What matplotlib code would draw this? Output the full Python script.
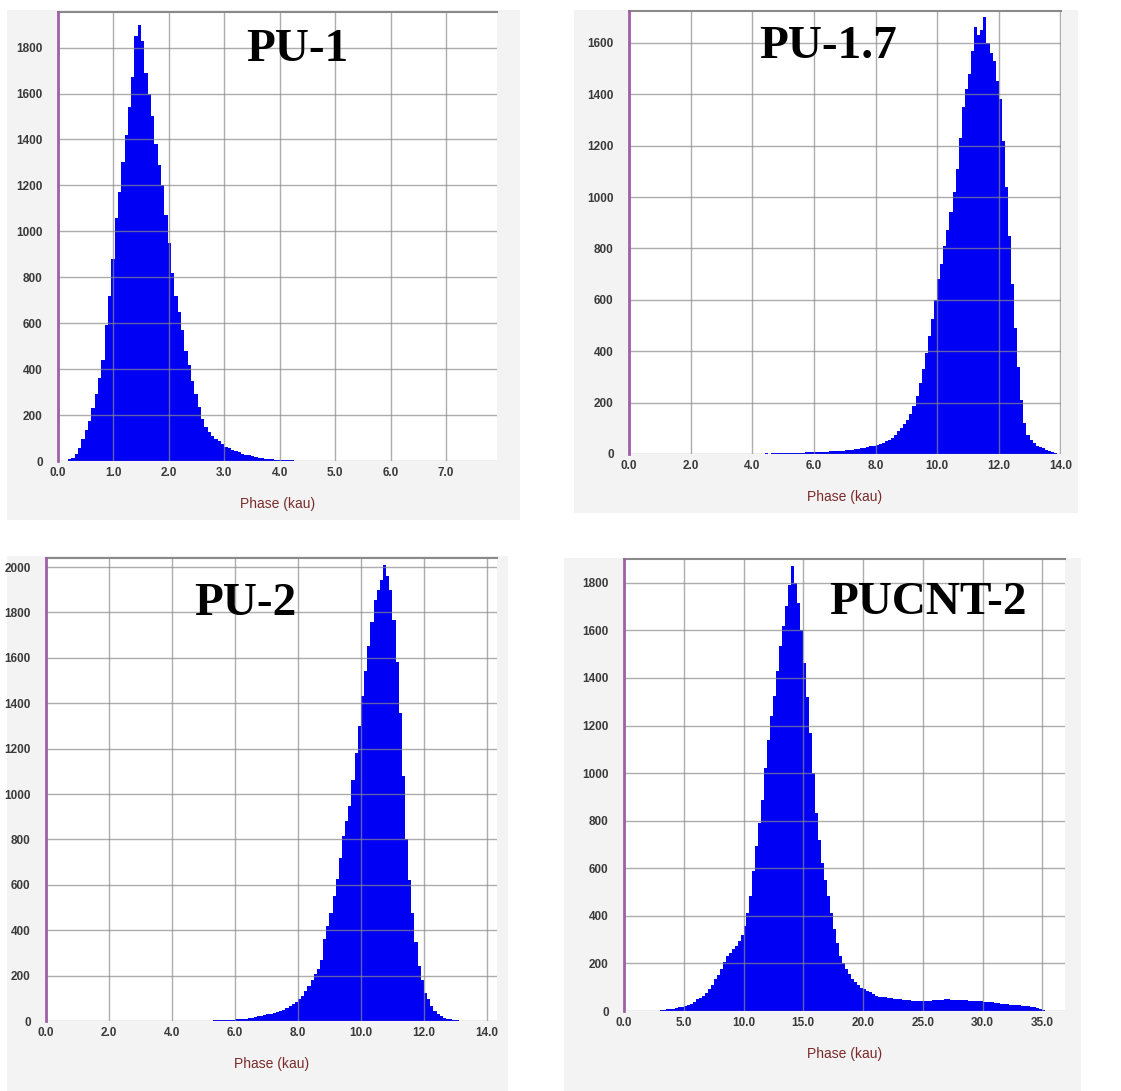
import numpy as np
import matplotlib.pyplot as plt
from matplotlib.patches import Rectangle

# PU-1: бини по 0.06 від 0.18
pu1_start, pu1_width = 0.18, 0.06
pu1_counts = [8, 12, 30, 55, 95, 135, 175, 230, 290, 360,
              440, 590, 720, 880, 1060, 1170, 1300, 1420, 1540, 1670,
              1850, 1900, 1830, 1690, 1600, 1500, 1380, 1290, 1200, 1070,
              950, 820, 720, 650, 570, 480, 420, 350, 290, 235,
              185, 150, 125, 110, 95, 85, 72, 62, 55, 48,
              42, 38, 32, 28, 24, 20, 17, 14, 12, 10,
              8, 7, 6, 5, 4, 4, 3, 3, 2, 2,
              2, 1, 1, 2, 1, 1, 1, 0, 1, 0]

# PU-1.7: бини по 0.1 від 4.0
pu17_start, pu17_width = 4.0, 0.1
pu17_counts = [1, 0, 1, 1, 2, 1, 2, 2, 3, 2, 3, 3, 4, 4, 4, 5, 5, 6, 6, 7,
               7, 8, 8, 9, 9, 10, 10, 11, 12, 13,
               14, 15, 17, 18, 20, 22, 25, 27, 30, 33,
               36, 40, 44, 50, 56, 64, 75, 88, 100, 115,
               132, 155, 185, 225, 275, 330, 395, 460, 525, 600,
               680, 740, 810, 870, 940, 1020, 1110, 1230, 1350, 1420,
               1480, 1570, 1660, 1630, 1650, 1700, 1600, 1560, 1530, 1450,
               1380, 1220, 1040, 850, 660, 490, 340, 210, 120, 75,
               55, 42, 32, 26, 22, 16, 10, 6, 3]

# PU-2: бини по 0.1 від 4.8
pu2_start, pu2_width = 4.8, 0.1
pu2_counts = [1, 2, 1, 2, 2, 3, 3, 4, 4, 5, 5, 6,
              7, 8, 10, 11, 13, 15, 17, 20, 23, 26,
              29, 32, 36, 40, 44, 50, 56, 64, 74, 85,
              95, 110, 130, 154, 180, 205, 227, 270, 360, 420,
              477, 550, 624, 720, 814, 880, 946, 1060, 1181, 1300,
              1430, 1540, 1651, 1760, 1856, 1900, 1944, 2010, 1960, 1900,
              1768, 1580, 1357, 1080, 800, 620, 477, 350, 242, 180,
              125, 95, 66, 45, 29, 20, 15, 10, 7, 5,
              3]

# PUCNT-2: бини по 0.25 від 2.5
pucnt_start, pucnt_width = 2.5, 0.25
pucnt_counts = [1, 2, 4, 5, 7, 8, 10, 12, 15, 18,
                21, 24, 30, 38, 49, 55, 62, 75, 91, 110,
                133, 150, 175, 205, 231, 245, 259, 275, 294, 320,
                357, 410, 483, 590, 693, 790, 889, 1020, 1141, 1240,
                1324, 1430, 1534, 1620, 1702, 1790, 1870, 1800, 1716, 1600,
                1464, 1320, 1169, 1000, 833, 720, 623, 550, 483, 410,
                343, 285, 231, 200, 175, 155, 133, 120, 108, 98,
                91, 85, 78, 72, 63, 60, 58, 57, 56, 55,
                52, 50, 49, 47, 46, 45, 44, 43, 42, 42,
                42, 43, 44, 45, 46, 47, 48, 49, 49, 48,
                48, 47, 46, 46, 45, 44, 43, 42, 41, 40,
                39, 38, 37, 36, 34, 33, 31, 30, 28, 27,
                26, 25, 24, 22, 21, 19, 17, 15, 12, 8,
                4, 2]

titles = ['PU-1', 'PU-1.7', 'PU-2', 'PUCNT-2']

W, H = 1121, 1091
fig = plt.figure(figsize=(W / 100, H / 100), dpi=100)
fig.patch.set_facecolor('white')


def px(l, t, r, b):
    return [l / W, 1 - b / H, (r - l) / W, (b - t) / H]


panels = [
    # сірий фон, область графіка, x межа, y межа, кроки, назва (x, y)
    dict(bg=(7, 10, 520, 520), ax=(58, 12, 497, 461), xmax=7.92, ymax=1955,
         xstep=1.0, ystep=200, ytop=1800, title_xy=(297, 50),
         start=pu1_start, width=pu1_width, counts=pu1_counts),
    dict(bg=(574, 10, 1078, 513), ax=(629, 11, 1061, 454), xmax=14.02, ymax=1724,
         xstep=2.0, ystep=200, ytop=1600, title_xy=(828, 47),
         start=pu17_start, width=pu17_width, counts=pu17_counts),
    dict(bg=(7, 556, 508, 1091), ax=(46, 558, 497, 1021), xmax=14.32, ymax=2040,
         xstep=2.0, ystep=200, ytop=2000, title_xy=(245, 604),
         start=pu2_start, width=pu2_width, counts=pu2_counts),
    dict(bg=(564, 558, 1081, 1091), ax=(624, 559, 1065, 1011), xmax=36.9, ymax=1900,
         xstep=5.0, ystep=200, ytop=1800, title_xy=(928, 603),
         start=pucnt_start, width=pucnt_width, counts=pucnt_counts),
]

for p, title in zip(panels, titles):
    l, t, r, b = p['bg']
    fig.patches.append(Rectangle((l / W, 1 - b / H), (r - l) / W, (b - t) / H,
                                 transform=fig.transFigure, facecolor='#f3f3f3',
                                 edgecolor='none', zorder=-5))
    ax = fig.add_axes(px(*p['ax']))
    ax.set_zorder(1)
    ax.set_facecolor('white')

    counts = np.array(p['counts'])
    edges = p['start'] + p['width'] * np.arange(len(counts) + 1)
    ax.stairs(counts, edges, fill=True, color='#0000f5', zorder=1)

    ax.set_xlim(0, p['xmax'])
    ax.set_ylim(0, p['ymax'])
    xt = np.arange(0, p['xmax'] + 1e-6, p['xstep'])
    yt = np.arange(0, p['ytop'] + 1, p['ystep'])
    ax.set_xticks(xt)
    ax.set_xticklabels([f'{v:.1f}' for v in xt])
    ax.set_yticks(yt)
    ax.set_yticklabels([f'{int(v)}' for v in yt])
    ax.tick_params(length=0, labelsize=8.5, colors='#3a3a3a')
    ax.tick_params(axis='x', pad=4)
    ax.tick_params(axis='y', pad=11)
    for lab in ax.get_xticklabels() + ax.get_yticklabels():
        lab.set_fontweight('bold')
        lab.set_family('Liberation Sans')

    ax.grid(True, color='#8a8a8a', linewidth=1.0, alpha=0.7, zorder=2)
    ax.set_axisbelow(False)

    ax.spines['left'].set_color('#a060a8')
    ax.spines['left'].set_linewidth(2)
    ax.spines['left'].set_zorder(5)
    ax.spines['top'].set_color('#8a8a8a')
    ax.spines['top'].set_linewidth(1.5)
    ax.spines['top'].set_zorder(4)
    ax.spines['right'].set_visible(False)
    ax.spines['bottom'].set_visible(False)

    ax.set_xlabel('Phase (kau)', color='#7a2a2a', fontsize=10,
                  family='Liberation Sans', labelpad=13)

    tx, ty = p['title_xy']
    fig.text(tx / W, 1 - ty / H, title, ha='center', va='center',
             family='Liberation Serif', fontweight='bold', fontsize=34,
             color='black', zorder=5)

fig.savefig('out.png', dpi=100)
